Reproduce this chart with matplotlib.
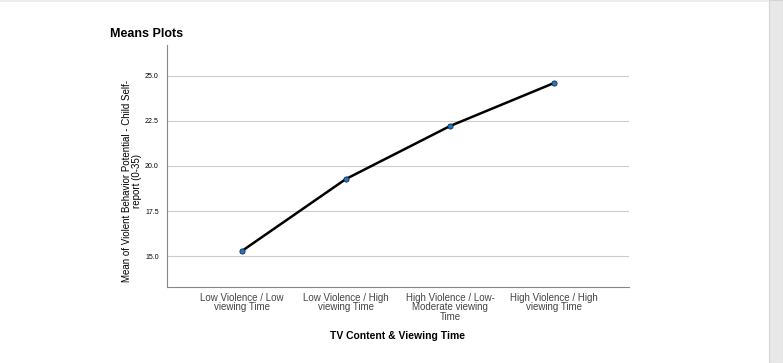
import matplotlib
matplotlib.use("Agg")
import matplotlib.pyplot as plt
from matplotlib.patches import Rectangle

plt.rcParams['font.family'] = ['Liberation Sans', 'DejaVu Sans']

# --- DATA ---
categories = ["Low Violence / Low\nviewing Time",
              "Low Violence / High\nviewing Time",
              "High Violence / Low-\nModerate viewing\nTime",
              "High Violence / High\nviewing Time"]
means = [15.28, 19.28, 22.22, 24.61]
yticks = [15.0, 17.5, 20.0, 22.5, 25.0]

W, H = 783, 363
fig = plt.figure(figsize=(W / 100, H / 100), dpi=100)
fig.patch.set_facecolor('white')

# grey page edge on the right and thin line on top
fig.patches.append(Rectangle((769 / W, 0), 14 / W, 1, transform=fig.transFigure,
                             facecolor='#e8e8e8', edgecolor='#d4d4d4', lw=0.8))
fig.patches.append(Rectangle((0, 1 - 2 / H), 769 / W, 2 / H, transform=fig.transFigure,
                             facecolor='#eeeeee', edgecolor='none'))

ax = fig.add_axes([167 / W, 1 - 287 / H, (629 - 167) / W, (287 - 45) / H])
xs = list(range(len(categories)))
ax.plot(xs, means, color='black', lw=1.8, zorder=3)
ax.scatter(xs, means, s=14, color='#1f77c8', edgecolors='#1a2a40', linewidths=0.6, zorder=4)

ax.set_xlim(-0.72, 3.72)
ax.set_ylim(13.28, 26.72)
ax.set_yticks(yticks)
ax.set_yticklabels([f"{v:.1f}" for v in yticks], fontsize=5)
ax.set_xticks(xs)
ax.set_xticklabels(categories, fontsize=7, color='#444444', linespacing=0.95)
ax.tick_params(axis='both', length=0, pad=4)
ax.tick_params(axis='y', pad=6)
ax.yaxis.grid(True, color='#cccccc', lw=0.8)
ax.set_axisbelow(True)
for s in ['top', 'right']:
    ax.spines[s].set_visible(False)
for s in ['left', 'bottom']:
    ax.spines[s].set_color('#888888')
    ax.spines[s].set_linewidth(0.8)

ax.set_ylabel("Mean of Violent Behavior Potential - Child Self-\nreport (0-35)",
              fontsize=7, linespacing=0.95)
ax.yaxis.set_label_coords(-0.054, 0.44)
ax.set_xlabel("TV Content & Viewing Time", fontsize=7.5, fontweight='bold', labelpad=7)

fig.text(110 / W, 1 - 34 / H, "Means Plots", fontsize=9, fontweight='bold', va='center')

fig.savefig("out.png", dpi=100)
